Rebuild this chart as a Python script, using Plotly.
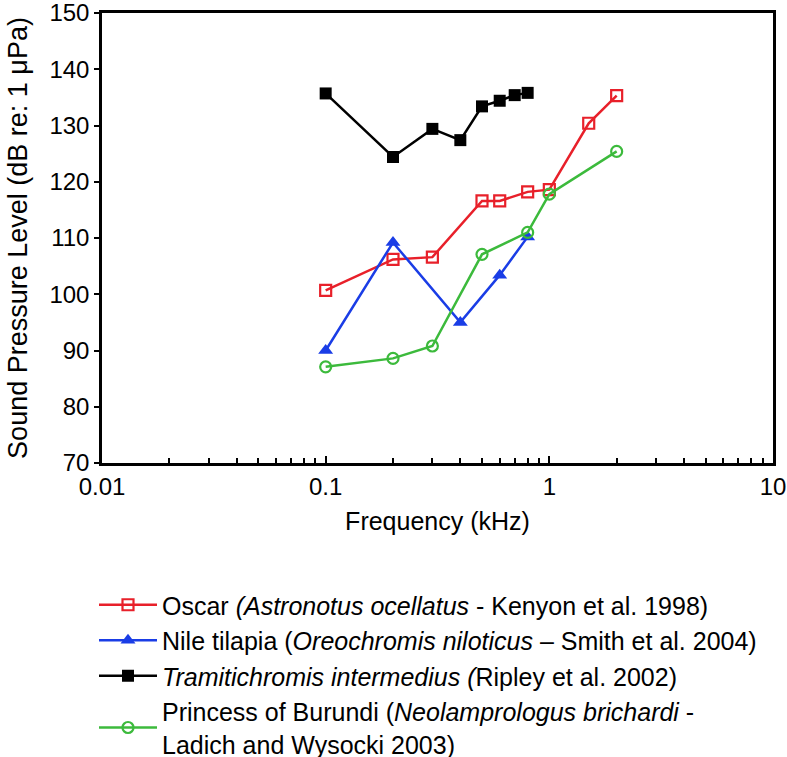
import plotly.graph_objects as go

# ---- data ----
oscar_x = [0.1, 0.2, 0.3, 0.5, 0.6, 0.8, 1.0, 1.5, 2.0]
oscar_y = [100.7, 106.2, 106.6, 116.6, 116.6, 118.2, 118.6, 130.4, 135.3]

tilapia_x = [0.1, 0.2, 0.4, 0.6, 0.8]
tilapia_y = [90.0, 109.2, 95.0, 103.4, 110.2]

tramiti_x = [0.1, 0.2, 0.3, 0.4, 0.5, 0.6, 0.7, 0.8]
tramiti_y = [135.7, 124.4, 129.4, 127.4, 133.4, 134.4, 135.4, 135.8]

princess_x = [0.1, 0.2, 0.3, 0.5, 0.8, 1.0, 2.0]
princess_y = [87.1, 88.6, 90.8, 107.1, 111.0, 117.8, 125.4]

names = [
    "Oscar <i>(Astronotus ocellatus</i> - Kenyon et al. 1998)",
    "Nile tilapia (<i>Oreochromis niloticus</i> – Smith et al. 2004)",
    "<i>Tramitichromis intermedius (</i>Ripley et al. 2002)",
    "Princess of Burundi (<i>Neolamprologus brichardi</i> -<br>Ladich and Wysocki 2003)",
]

x_tickvals = [0.01, 0.1, 1, 10]
x_ticktext = ["0.01", "0.1", "1", "10"]
x_minor = [m * d for d in (0.01, 0.1, 1) for m in range(2, 10)]

FONT = "Liberation Sans, Arial, Helvetica, sans-serif"
W, H = 787, 757
L, R, T, B = 102, 14, 13, 294
PW, PH = W - L - R, H - T - B

fig = go.Figure()
fig.add_trace(go.Scatter(x=oscar_x, y=oscar_y, mode="lines+markers", name=names[0],
                         line=dict(color="#e8202a", width=2.5),
                         marker=dict(symbol="square-open", size=11, color="#e8202a",
                                     line=dict(width=2.2, color="#e8202a"))))
fig.add_trace(go.Scatter(x=tilapia_x, y=tilapia_y, mode="lines+markers", name=names[1],
                         line=dict(color="#1a3de6", width=2.5),
                         marker=dict(symbol="triangle-up", size=13, color="#1a3de6")))
fig.add_trace(go.Scatter(x=tramiti_x, y=tramiti_y, mode="lines+markers", name=names[2],
                         line=dict(color="#000000", width=2.5),
                         marker=dict(symbol="square", size=12, color="#000000")))
fig.add_trace(go.Scatter(x=princess_x, y=princess_y, mode="lines+markers", name=names[3],
                         line=dict(color="#3cba3c", width=2.5),
                         marker=dict(symbol="circle-open", size=11, color="#3cba3c",
                                     line=dict(width=2.2, color="#3cba3c"))))

fig.update_layout(
    width=W, height=H,
    margin=dict(l=L, r=R, t=T, b=B, autoexpand=False),
    paper_bgcolor="white", plot_bgcolor="white",
    font=dict(family=FONT, size=24, color="black"),
    showlegend=True,
    legend=dict(x=(94 - L) / PW, y=(H - B - 582) / PH,
                xanchor="left", yanchor="top", itemwidth=58,
                font=dict(size=25), bgcolor="rgba(0,0,0,0)", tracegroupgap=0),
)
fig.update_xaxes(
    type="log", range=[-2, 1], ticklabeloverflow="allow",
    tickvals=x_tickvals, ticktext=x_ticktext,
    ticks="inside", ticklen=7, tickwidth=2, tickcolor="black",
    minor=dict(tickvals=x_minor, ticks="inside", ticklen=5, tickwidth=1.5, tickcolor="black"),
    showline=True, linewidth=2.5, linecolor="black", mirror=True,
    showgrid=False, zeroline=False,
    title=dict(text="Frequency (kHz)", font=dict(size=25), standoff=14),
    tickfont=dict(size=24),
)
fig.update_yaxes(
    range=[70, 150], dtick=10, ticklabeloverflow="allow",
    ticks="outside", ticklen=5, tickwidth=2, tickcolor="black",
    showline=True, linewidth=2.5, linecolor="black", mirror=True,
    showgrid=False, zeroline=False,
    title=dict(text="Sound Pressure Level (dB re: 1 μPa)", font=dict(size=27), standoff=14),
    tickfont=dict(size=24),
)

fig.write_html("out.html", config={"displayModeBar": False},
               post_script="document.body.style.margin='0';document.body.style.overflow='hidden';")
